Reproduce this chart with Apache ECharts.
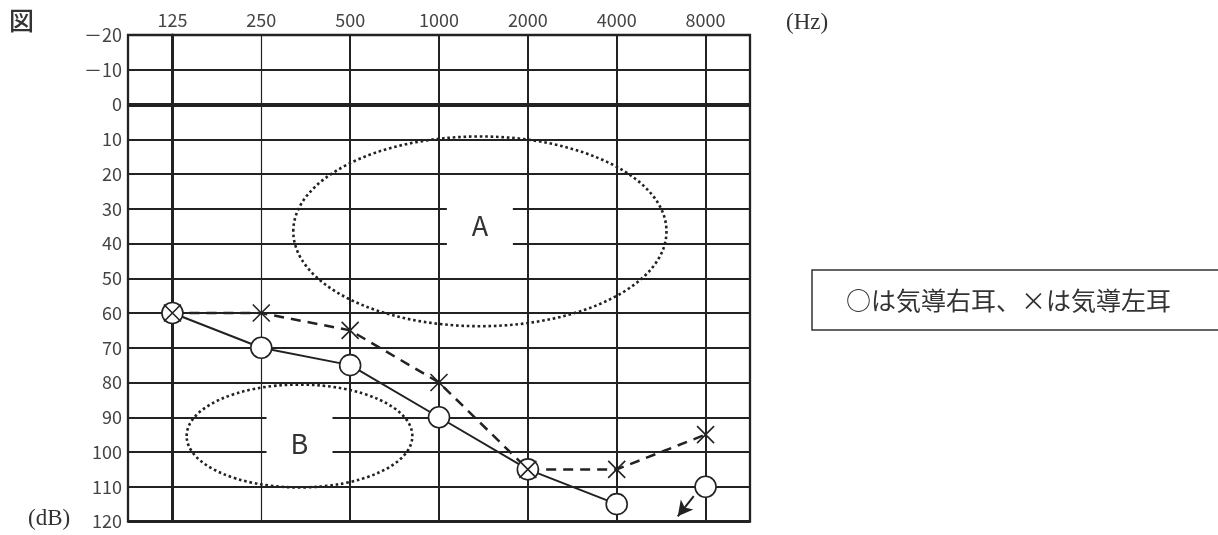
<!DOCTYPE html>
<html>
<head>
<meta charset="utf-8">
<script src="https://cdn.jsdelivr.net/npm/echarts@6/dist/echarts.min.js"></script>
<style>
html,body{margin:0;padding:0;background:#fff;}
#chart{width:1218px;height:535px;}
</style>
</head>
<body>
<div id="chart"></div>
<script>
// ---- data ----
const freqLabels = ['125', '250', '500', '1000', '2000', '4000', '8000'];
const dbMin = -20, dbMax = 120, dbStep = 10;
// ○ 気導右耳 (right ear, air conduction)
const rightEar = [60, 70, 75, 90, 105, 115, 110];
const rightConnectedCount = 6;          // the 8000 Hz point is a no-response (scale-out) mark
// × 気導左耳 (left ear, air conduction)
const leftEar = [60, 60, 65, 80, 105, 105, 95];
// dotted regions A and B: centre (octave index, dB), radii (octaves, dB)
const regionNames = ['A', 'B'];
const regionCx = [3.46, 1.43];
const regionCy = [36.5, 95.4];
const regionRx = [2.10, 1.27];
const regionRy = [27.3, 14.8];
const regionLabelY = [35, 97.5];
// no-response arrow at 8000 Hz (from, to) in (octave index, dB)
const arrowFrom = [5.867, 112.7];
const arrowTo = [5.687, 118.5];

const INK = '#222';
const sansFont = '"Noto Sans CJK JP", "Noto Sans", sans-serif';
const serifFont = '"Liberation Serif", "DejaVu Serif", serif';

const chart = echarts.init(document.getElementById('chart'), null, {renderer: 'canvas'});

const vLineWidths = freqLabels.map((f, i) => i === 0 ? 3 : (i === 1 ? 1.2 : 2));

const option = {
  animation: false,
  backgroundColor: '#fff',
  grid: {
    left: 128, top: 35, width: 622, height: 486.5,
    show: true, borderColor: INK, borderWidth: 2.3, backgroundColor: 'transparent'
  },
  xAxis: [
    {
      type: 'category', data: freqLabels, position: 'top', boundaryGap: true,
      axisLine: {show: false}, axisTick: {show: false}, splitLine: {show: false},
      axisLabel: {fontSize: 18, color: '#444', margin: 6, fontFamily: sansFont}
    },
    {
      type: 'value', min: -0.5, max: 6.5, show: false,
      splitLine: {show: false}
    }
  ],
  yAxis: {
    type: 'value', inverse: true, min: dbMin, max: dbMax, interval: dbStep,
    axisLine: {show: true, lineStyle: {color: INK, width: 3}},
    axisTick: {show: false},
    axisLabel: {
      fontSize: 18, color: '#444', margin: 6, fontFamily: sansFont,
      formatter: v => v < 0 ? '－' + (-v) : String(v)
    },
    splitLine: {show: true, lineStyle: {color: INK, width: 2}}
  },
  graphic: [
    {type: 'text', left: 9, top: 8, style: {text: '図', font: '500 25px ' + sansFont, fill: '#333'}},
    {type: 'text', left: 786, top: 11, style: {text: '(Hz)', font: '23px ' + serifFont, fill: '#333'}},
    {type: 'text', left: 28, top: 507, style: {text: '(dB)', font: '23px ' + serifFont, fill: '#333'}},
    {type: 'rect', shape: {x: 812, y: 270, width: 420, height: 60},
      style: {fill: '#fff', stroke: '#333', lineWidth: 1.5}},
    {type: 'text', x: 846, y: 300,
      style: {text: '○は気導右耳、×は気導左耳', font: '25px ' + sansFont, fill: '#333', verticalAlign: 'middle'}}
  ],
  series: [
    {
      // frequency grid lines and the 0 dB reference
      type: 'scatter', xAxisIndex: 1, data: [], z: 1, silent: true,
      markLine: {
        silent: true, symbol: 'none', label: {show: false},
        data: freqLabels.map((f, i) => ({xAxis: i, lineStyle: {type: 'solid', color: INK, width: vLineWidths[i]}}))
          .concat([
            {yAxis: 0, lineStyle: {type: 'solid', color: INK, width: 4}},
            {yAxis: dbMax, lineStyle: {type: 'solid', color: INK, width: 3}}
          ])
      }
    },
    {
      type: 'scatter', xAxisIndex: 1, z: 3, silent: true,
      symbol: 'rect', symbolSize: [66, 58],
      itemStyle: {color: '#fff', opacity: 1},
      label: {show: true, position: 'inside', formatter: p => p.name, fontSize: 27, color: '#333', fontFamily: sansFont},
      data: regionNames.map((n, i) => ({name: n, value: [regionCx[i], regionLabelY[i]]}))
    },
    {
      type: 'custom', xAxisIndex: 1, z: 4, silent: true,
      renderItem: (params, api) => {
        const c = api.coord([api.value(0), api.value(1)]);
        const s = api.size([api.value(2), api.value(3)]);
        return {
          type: 'ellipse',
          shape: {cx: c[0], cy: c[1], rx: s[0], ry: s[1]},
          style: {fill: 'none', stroke: INK, lineWidth: 2.6, lineDash: [2.6, 2.8]}
        };
      },
      data: regionNames.map((n, i) => [regionCx[i], regionCy[i], regionRx[i], regionRy[i]])
    },
    {
      name: '×', type: 'line', xAxisIndex: 1, z: 5, silent: true,
      symbol: 'none',
      lineStyle: {color: INK, width: 2.5, type: [10, 7]},
      data: leftEar.map((v, i) => [i, v])
    },
    {
      name: '○', type: 'line', xAxisIndex: 1, z: 6, silent: true,
      symbol: 'circle', symbolSize: 21,
      itemStyle: {color: '#fff', borderColor: INK, borderWidth: 1.6, opacity: 1},
      lineStyle: {color: INK, width: 2},
      data: rightEar.slice(0, rightConnectedCount).map((v, i) => [i, v]),
      markLine: {
        silent: true, symbol: ['none', 'arrow'], symbolSize: [12, 15], label: {show: false},
        lineStyle: {type: 'solid', color: INK, width: 2},
        data: [[{coord: arrowFrom}, {coord: arrowTo}]]
      }
    },
    {
      name: '○ scale-out', type: 'scatter', xAxisIndex: 1, z: 6, silent: true,
      symbol: 'circle', symbolSize: 21,
      itemStyle: {color: '#fff', borderColor: INK, borderWidth: 1.6, opacity: 1},
      data: rightEar.slice(rightConnectedCount).map((v, i) => [i + rightConnectedCount, v])
    },
    {
      name: '× marks', type: 'scatter', xAxisIndex: 1, z: 7, silent: true,
      symbol: 'path://M0 0L10 10M10 0L0 10', symbolSize: 17,
      itemStyle: {color: 'transparent', borderColor: INK, borderWidth: 1.6, opacity: 1},
      data: leftEar.map((v, i) => [i, v])
    }
  ]
};
chart.setOption(option);
</script>
</body>
</html>
